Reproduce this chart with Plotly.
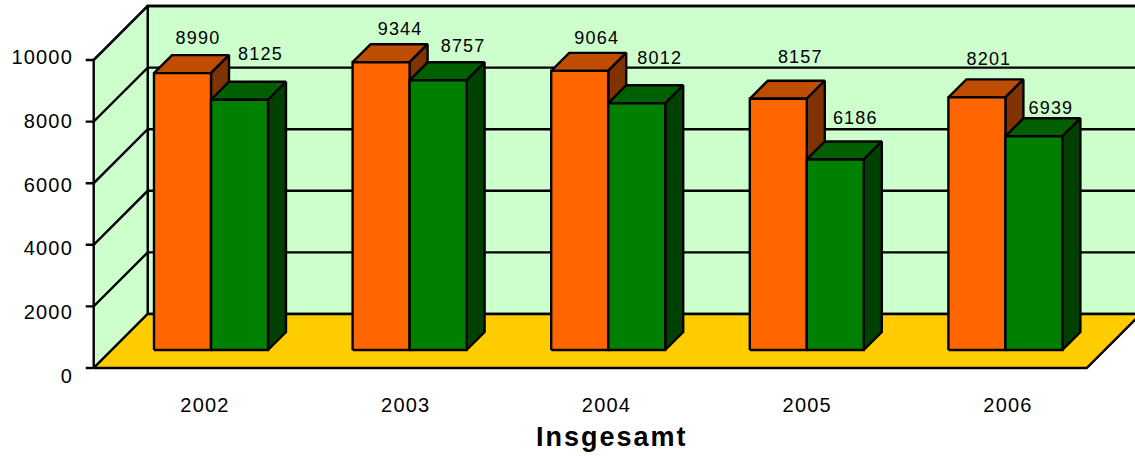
import plotly.graph_objects as go

years = [2002, 2003, 2004, 2005, 2006]
series_a = [8990, 9344, 9064, 8157, 8201]
series_b = [8125, 8757, 8012, 6186, 6939]
y_ticks = [0, 2000, 4000, 6000, 8000, 10000]
axis_title = "Insgesamt"

# label nudges from the top of each bar (pixels)
label_dx_a = [15.5, 19, 17, 22, 12]
label_dy_a = [34, 32, 31, 40, 37]
label_dx_b = [21, 25, 23, 20, 17]
label_dy_b = [44, 33, 44, 39.5, 26.5]

W, H = 1135, 457
CAT_PX = 198.6      # pixels per category, front plane
CAT0_PX = 193.0     # pixel of first category centre, front plane
VAL_PX = 0.0308     # pixels per value unit, front plane
FLOOR_PX = 368      # pixel row of value 0, front plane
DEPTH_PX = 54       # oblique offset of the whole depth
BAR_W = 57 / CAT_PX
BAR_NEAR, BAR_FAR = 1 / 3, 2 / 3
YMAX = 10000

FONT = "Liberation Sans, Arial, sans-serif"
LW = 2.4
WALL, FLOORC = "#CCFFCC", "#FFCC00"
A_FRONT, A_TOP, A_SIDE = "#FF6600", "#BF4D00", "#803300"
B_FRONT, B_TOP, B_SIDE = "#008000", "#006000", "#004000"


def pt(cat, val, depth=0.0):
    return cat + depth * DEPTH_PX / CAT_PX, val + depth * DEPTH_PX / VAL_PX


fig = go.Figure()


def poly(points, fill=None, lw=LW):
    xs = [p[0] for p in points]
    ys = [p[1] for p in points]
    fig.add_trace(go.Scatter(
        x=xs, y=ys, mode="lines", xaxis="x2", yaxis="y2",
        fill="toself" if fill else None, fillcolor=fill,
        line=dict(color="#000000", width=lw), hoverinfo="skip", showlegend=False,
    ))


LEFT, RIGHT = -0.5, len(years) - 0.5

# walls and floor
poly([pt(LEFT, 0, 1), pt(RIGHT, 0, 1), pt(RIGHT, YMAX, 1), pt(LEFT, YMAX, 1), pt(LEFT, 0, 1)], WALL)
poly([pt(LEFT, 0, 0), pt(LEFT, 0, 1), pt(LEFT, YMAX, 1), pt(LEFT, YMAX, 0), pt(LEFT, 0, 0)], WALL)
for v in y_ticks[1:]:
    poly([(LEFT - 8 / CAT_PX, v), pt(LEFT, v, 0), pt(LEFT, v, 1), pt(RIGHT, v, 1)])
poly([pt(LEFT, 0, 0), pt(RIGHT, 0, 0), pt(RIGHT, 0, 1), pt(LEFT, 0, 1), pt(LEFT, 0, 0)], FLOORC)
poly([(LEFT - 8 / CAT_PX, 0), pt(LEFT, 0, 0)])


def bar(x0, x1, v, front, top, side):
    poly([pt(x0, v, BAR_NEAR), pt(x1, v, BAR_NEAR), pt(x1, v, BAR_FAR), pt(x0, v, BAR_FAR), pt(x0, v, BAR_NEAR)], top)
    poly([pt(x1, 0, BAR_NEAR), pt(x1, 0, BAR_FAR), pt(x1, v, BAR_FAR), pt(x1, v, BAR_NEAR), pt(x1, 0, BAR_NEAR)], side)
    poly([pt(x0, 0, BAR_NEAR), pt(x1, 0, BAR_NEAR), pt(x1, v, BAR_NEAR), pt(x0, v, BAR_NEAR), pt(x0, 0, BAR_NEAR)], front)


lab_x, lab_y, lab_t = [], [], []
for i in range(len(years)):
    bar(i - BAR_W, i, series_a[i], A_FRONT, A_TOP, A_SIDE)
    bar(i, i + BAR_W, series_b[i], B_FRONT, B_TOP, B_SIDE)
    for v, off, dx, dy in ((series_a[i], -BAR_W / 2, label_dx_a[i], label_dy_a[i]),
                           (series_b[i], BAR_W / 2, label_dx_b[i], label_dy_b[i])):
        x, y = pt(i + off, v, BAR_NEAR)
        lab_x.append(x + dx / CAT_PX)
        lab_y.append(y + dy / VAL_PX)
        lab_t.append(str(v))

fig.add_trace(go.Scatter(
    x=lab_x, y=lab_y, text=lab_t, mode="text", xaxis="x2", yaxis="y2",
    textposition="middle center", textfont=dict(family=FONT, size=18, color="#000000"),
    hoverinfo="skip", showlegend=False,
))
# carries the visible tick-label axes
fig.add_trace(go.Scatter(x=years, y=series_a, mode="markers", marker=dict(opacity=0),
                         hoverinfo="skip", showlegend=False))

# the tick labels sit on a slightly wider scale than the drawn planes
Y_LAB_PX = (376 - 57) / YMAX
X_LAB_PX = 200.75
fig.update_layout(
    width=W, height=H, autosize=False, showlegend=False,
    margin=dict(l=0, r=0, t=0, b=0, pad=0),
    paper_bgcolor="#FFFFFF", plot_bgcolor="rgba(0,0,0,0)",
    font=dict(family=FONT, color="#000000"),
    xaxis=dict(
        range=[years[0] - 205 / X_LAB_PX, years[0] + (W - 205) / X_LAB_PX],
        domain=[0, 1], anchor="free", position=(H - 390.5) / H, tickmode="array",
        tickvals=years, ticktext=[str(y) for y in years], showgrid=False, zeroline=False,
        showline=False, ticks="", tickfont=dict(family=FONT, size=20), fixedrange=True,
    ),
    yaxis=dict(
        range=[-(H - 376) / Y_LAB_PX, 57 / Y_LAB_PX + YMAX],
        domain=[0, 1], anchor="free", position=73 / W, tickmode="array",
        tickvals=y_ticks, showgrid=False, zeroline=False, tickformat="d",
        showline=False, ticks="", tickfont=dict(family=FONT, size=20), fixedrange=True,
    ),
    xaxis2=dict(
        range=[(0 - CAT0_PX) / CAT_PX, (W - CAT0_PX) / CAT_PX], overlaying="x",
        visible=False, anchor="y2", fixedrange=True,
    ),
    yaxis2=dict(
        range=[-(H - FLOOR_PX) / VAL_PX, FLOOR_PX / VAL_PX], overlaying="y",
        visible=False, anchor="x2", fixedrange=True,
    ),
    annotations=[dict(
        text=f"<b>{axis_title}</b>", xref="paper", yref="paper", x=612 / W, y=(H - 437) / H,
        xanchor="center", yanchor="middle", showarrow=False, font=dict(family=FONT, size=27),
    )],
)

page_fix = """
document.body.style.margin = '0';
document.querySelectorAll('.main-svg text').forEach(function (t) {
  t.style.letterSpacing = t.closest('.annotation') ? '2px' : '1.2px';
});
"""
fig.write_html("out.html", post_script=page_fix, config={"displayModeBar": False})
